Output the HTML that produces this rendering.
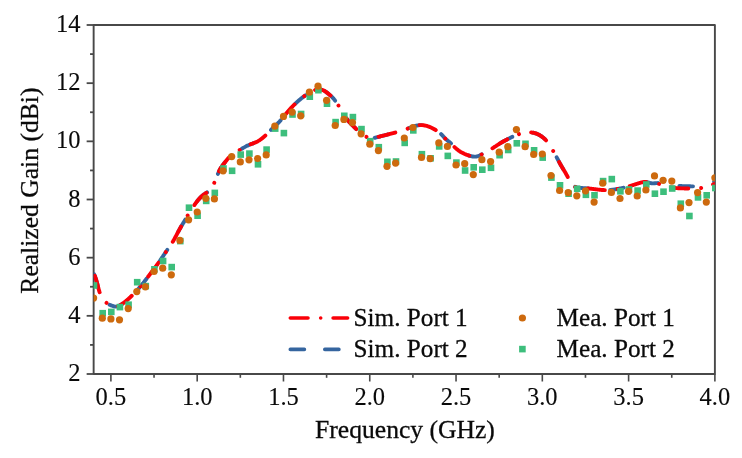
<!DOCTYPE html>
<html><head><meta charset="utf-8"><title>Realized Gain</title>
<style>
html,body{margin:0;padding:0;background:#fff;}
svg{display:block;}
text{font-family:"Liberation Serif","Times New Roman",serif;font-size:25.2px;fill:#0a0a0a;stroke:#0a0a0a;stroke-width:0.3px;}
.tk{font-size:24.5px;stroke-width:0.12px;}
.ti{font-size:25.6px;}
</style></head><body>
<svg width="742" height="458" viewBox="0 0 742 458">
<rect width="742" height="458" fill="#fff"/>
<defs><clipPath id="pc"><rect x="93.64" y="25.00" width="621.25" height="349.00"/></clipPath></defs>

<g stroke="#484848" stroke-width="1.6" fill="none" stroke-linejoin="round">
<rect x="93.64" y="25.00" width="621.25" height="349.00" stroke-width="1.9"/>
<line x1="110.90" y1="374.00" x2="110.90" y2="381.50"/>
<line x1="197.19" y1="374.00" x2="197.19" y2="381.50"/>
<line x1="283.47" y1="374.00" x2="283.47" y2="381.50"/>
<line x1="369.75" y1="374.00" x2="369.75" y2="381.50"/>
<line x1="456.04" y1="374.00" x2="456.04" y2="381.50"/>
<line x1="542.32" y1="374.00" x2="542.32" y2="381.50"/>
<line x1="628.61" y1="374.00" x2="628.61" y2="381.50"/>
<line x1="714.89" y1="374.00" x2="714.89" y2="381.50"/>
<line x1="154.04" y1="374.00" x2="154.04" y2="377.80"/>
<line x1="240.33" y1="374.00" x2="240.33" y2="377.80"/>
<line x1="326.61" y1="374.00" x2="326.61" y2="377.80"/>
<line x1="412.90" y1="374.00" x2="412.90" y2="377.80"/>
<line x1="499.18" y1="374.00" x2="499.18" y2="377.80"/>
<line x1="585.47" y1="374.00" x2="585.47" y2="377.80"/>
<line x1="671.75" y1="374.00" x2="671.75" y2="377.80"/>
<line x1="93.64" y1="374.00" x2="86.64" y2="374.00" stroke-width="1.8"/>
<line x1="93.64" y1="315.83" x2="86.64" y2="315.83" stroke-width="1.8"/>
<line x1="93.64" y1="257.67" x2="86.64" y2="257.67" stroke-width="1.8"/>
<line x1="93.64" y1="199.50" x2="86.64" y2="199.50" stroke-width="1.8"/>
<line x1="93.64" y1="141.34" x2="86.64" y2="141.34" stroke-width="1.8"/>
<line x1="93.64" y1="83.17" x2="86.64" y2="83.17" stroke-width="1.8"/>
<line x1="93.64" y1="25.00" x2="86.64" y2="25.00" stroke-width="1.8"/>
<line x1="93.64" y1="344.92" x2="90.04" y2="344.92" stroke-width="1.8"/>
<line x1="93.64" y1="286.75" x2="90.04" y2="286.75" stroke-width="1.8"/>
<line x1="93.64" y1="228.59" x2="90.04" y2="228.59" stroke-width="1.8"/>
<line x1="93.64" y1="170.42" x2="90.04" y2="170.42" stroke-width="1.8"/>
<line x1="93.64" y1="112.25" x2="90.04" y2="112.25" stroke-width="1.8"/>
<line x1="93.64" y1="54.09" x2="90.04" y2="54.09" stroke-width="1.8"/>
</g>
<text x="110.9" y="404.5" class="tk" text-anchor="middle">0.5</text>
<text x="197.2" y="404.5" class="tk" text-anchor="middle">1.0</text>
<text x="283.5" y="404.5" class="tk" text-anchor="middle">1.5</text>
<text x="369.8" y="404.5" class="tk" text-anchor="middle">2.0</text>
<text x="456.0" y="404.5" class="tk" text-anchor="middle">2.5</text>
<text x="542.3" y="404.5" class="tk" text-anchor="middle">3.0</text>
<text x="628.6" y="404.5" class="tk" text-anchor="middle">3.5</text>
<text x="714.9" y="404.5" class="tk" text-anchor="middle">4.0</text>
<text x="80.4" y="381.0" class="tk" text-anchor="end">2</text>
<text x="80.4" y="322.8" class="tk" text-anchor="end">4</text>
<text x="80.4" y="264.7" class="tk" text-anchor="end">6</text>
<text x="80.4" y="206.5" class="tk" text-anchor="end">8</text>
<text x="80.4" y="148.3" class="tk" text-anchor="end">10</text>
<text x="80.4" y="90.2" class="tk" text-anchor="end">12</text>
<text x="80.4" y="32.0" class="tk" text-anchor="end">14</text>
<text x="405" y="437.8" class="ti" text-anchor="middle">Frequency (GHz)</text>
<text transform="translate(37.5,190.6) rotate(-90)" class="ti" text-anchor="middle">Realized Gain (dBi)</text>
<g clip-path="url(#pc)" fill="none" stroke-linecap="round" stroke-linejoin="round">
<path d="M94.10,274.30 L94.33,274.80 L94.55,275.31 L94.77,275.82 L94.97,276.32 L95.17,276.83 L95.35,277.34 L95.53,277.85 L95.71,278.36 L95.88,278.88 L96.04,279.39 L96.20,279.90 L96.35,280.42 L96.50,280.93 L96.64,281.45 L96.78,281.97 L96.92,282.48 L97.06,283.00 L97.19,283.52 L97.33,284.04 L97.46,284.56 L97.59,285.08 L97.72,285.60 L97.86,286.12 L97.99,286.64 L98.13,287.16 L98.27,287.69 L98.41,288.21 L98.55,288.73 L98.70,289.25 L98.85,289.77 L99.01,290.30 L99.17,290.82 L99.34,291.34 L99.51,291.86 L99.70,292.39 L99.88,292.91 L100.08,293.43 L100.28,293.95 L100.49,294.47 L100.71,294.98 L100.94,295.49 L101.18,296.00 L101.42,296.50 L101.68,296.99 L101.94,297.48 L102.22,297.96 L102.50,298.43 L102.80,298.89 L103.10,299.34 L103.42,299.78 L103.75,300.21 L104.09,300.63 L104.45,301.03 L104.81,301.42 L105.19,301.80 L105.58,302.16 L105.99,302.51 L106.40,302.84 L106.83,303.15 L107.28,303.44 L107.73,303.73 L108.20,304.00 L108.67,304.25 L109.15,304.50 L109.65,304.73 L110.15,304.95 L110.65,305.17 L111.17,305.38 L111.69,305.57 L112.21,305.77 L112.74,305.95 L113.27,306.13 L113.80,306.29 L114.33,306.42 L114.87,306.53 L115.40,306.59 L115.93,306.61 L116.45,306.59 L116.97,306.50 L117.49,306.38 L118.00,306.21 L118.51,306.00 L119.01,305.77 L119.51,305.51 L119.99,305.24 L120.48,304.95 L120.95,304.67 L121.41,304.37 L121.87,304.08 L122.33,303.77 L122.77,303.47 L123.21,303.15 L123.65,302.84 L124.08,302.52 L124.51,302.19 L124.93,301.86 L125.35,301.53 L125.77,301.19 L126.18,300.85 L126.59,300.50 L127.00,300.15 L127.41,299.80 L127.82,299.44 L128.22,299.08 L128.62,298.72 L129.02,298.35 L129.42,297.98 L129.81,297.61 L130.21,297.24 L130.60,296.86 L130.99,296.49 L131.38,296.11 L131.77,295.73 L132.16,295.35 L132.54,294.97 L132.93,294.59 L133.31,294.20 L133.69,293.82 L134.07,293.43 L134.45,293.04 L134.83,292.65 L135.20,292.26 L135.58,291.87 L135.95,291.48 L136.32,291.08 L136.69,290.69 L137.05,290.29 L137.42,289.89 L137.78,289.49 L138.14,289.09 L138.50,288.69 L138.86,288.28 L139.22,287.87 L139.57,287.47 L139.92,287.06 L140.27,286.64 L140.62,286.23 L140.97,285.81 L141.31,285.40 L141.65,284.98 L142.00,284.56 L142.34,284.14 L142.67,283.72 L143.01,283.29 L143.35,282.87 L143.68,282.44 L144.02,282.02 L144.35,281.59 L144.68,281.16 L145.01,280.73 L145.34,280.31 L145.67,279.88 L146.00,279.45 L146.33,279.02 L146.66,278.58 L146.99,278.15 L147.31,277.72 L147.64,277.29 L147.97,276.86 L148.30,276.43 L148.63,276.00 L148.95,275.57 L149.28,275.14 L149.61,274.71 L149.94,274.28 L150.27,273.85 L150.60,273.42 L150.93,272.99 L151.26,272.56 L151.58,272.13 L151.91,271.70 L152.24,271.27 L152.57,270.83 L152.90,270.40 L153.22,269.97 L153.55,269.54 L153.88,269.11 L154.20,268.68 L154.53,268.24 L154.85,267.81 L155.17,267.38 L155.50,266.94 L155.82,266.51 L156.14,266.07 L156.46,265.64 L156.78,265.20 L157.10,264.76 L157.41,264.32 L157.73,263.88 L158.04,263.44 L158.35,263.00 L158.66,262.56 L158.97,262.12 L159.28,261.67 L159.59,261.23 L159.90,260.78 L160.21,260.34 L160.51,259.89 L160.82,259.44 L161.12,259.00 L161.42,258.55 L161.73,258.10 L162.03,257.65 L162.33,257.20 L162.64,256.76 L162.94,256.31 L163.24,255.86 L163.54,255.41 L163.84,254.96 L164.15,254.51 L164.45,254.06 L164.75,253.61 L165.05,253.16 L165.36,252.72 L165.66,252.27 L165.97,251.82 L166.27,251.37 L166.58,250.93 L166.88,250.48 L167.19,250.03 L167.50,249.59 L167.81,249.14 L168.12,248.70 L168.43,248.26 L168.74,247.81 L169.05,247.37 L169.36,246.93 L169.67,246.48 L169.98,246.04 L170.29,245.59 L170.60,245.15 L170.90,244.70 L171.20,244.25 L171.50,243.80 L171.80,243.35 L172.09,242.89 L172.38,242.43 L172.66,241.98 L172.94,241.51 L173.22,241.05 L173.49,240.58 L173.76,240.12 L174.03,239.65 L174.30,239.17 L174.56,238.70 L174.82,238.23 L175.08,237.75 L175.33,237.27 L175.59,236.80 L175.84,236.32 L176.09,235.84 L176.35,235.36 L176.60,234.88 L176.85,234.40 L177.10,233.92 L177.35,233.44 L177.60,232.96 L177.85,232.48 L178.10,232.00 L178.36,231.52 L178.61,231.04 L178.87,230.57 L179.13,230.09 L179.39,229.62 L179.65,229.14 L179.92,228.67 L180.18,228.20 L180.45,227.73 L180.73,227.26 L181.00,226.80 L181.28,226.33 L181.56,225.87 L181.83,225.40 L182.11,224.94 L182.39,224.48 L182.67,224.01 L182.96,223.55 L183.24,223.09 L183.52,222.63 L183.80,222.16 L184.08,221.70 L184.35,221.24 L184.63,220.77 L184.91,220.30 L185.18,219.84 L185.45,219.37 L185.72,218.90 L185.99,218.43 L186.25,217.96 L186.52,217.49 L186.79,217.02 L187.05,216.55 L187.32,216.08 L187.59,215.61 L187.86,215.14 L188.13,214.67 L188.41,214.20 L188.69,213.74 L188.97,213.28 L189.25,212.81 L189.53,212.35 L189.82,211.89 L190.11,211.44 L190.40,210.98 L190.69,210.52 L190.98,210.07 L191.28,209.61 L191.57,209.16 L191.87,208.71 L192.17,208.26 L192.47,207.81 L192.77,207.36 L193.08,206.91 L193.38,206.46 L193.69,206.02 L194.00,205.57 L194.30,205.13 L194.61,204.68 L194.93,204.24 L195.24,203.80 L195.56,203.36 L195.88,202.92 L196.20,202.49 L196.52,202.06 L196.85,201.63 L197.19,201.20 L197.52,200.78 L197.87,200.36 L198.21,199.94 L198.56,199.53 L198.92,199.12 L199.28,198.71 L199.65,198.31 L200.02,197.92 L200.40,197.53 L200.79,197.15 L201.18,196.77 L201.58,196.40 L201.98,196.05 L202.39,195.69 L202.81,195.35 L203.24,195.02 L203.68,194.70 L204.12,194.38 L204.56,194.08 L205.01,193.77 L205.46,193.47 L205.91,193.16 L206.35,192.85 L206.79,192.54 L207.22,192.22 L207.65,191.88 L208.06,191.53 L208.46,191.17 L208.85,190.80 L209.24,190.41 L209.61,190.02 L209.97,189.62 L210.32,189.20 L210.67,188.78 L211.00,188.35 L211.33,187.91 L211.64,187.46 L211.95,187.00 L212.25,186.54 L212.54,186.08 L212.82,185.61 L213.09,185.13 L213.36,184.65 L213.61,184.17 L213.86,183.68 L214.10,183.19 L214.33,182.70 L214.56,182.20 L214.78,181.71 L215.00,181.21 L215.21,180.71 L215.41,180.21 L215.62,179.71 L215.82,179.21 L216.01,178.71 L216.21,178.20 L216.41,177.70 L216.60,177.20 L216.79,176.69 L216.99,176.19 L217.19,175.68 L217.39,175.18 L217.59,174.68 L217.79,174.18 L218.00,173.68 L218.21,173.18 L218.43,172.68 L218.65,172.18 L218.88,171.69 L219.11,171.20 L219.35,170.71 L219.59,170.23 L219.84,169.75 L220.10,169.27 L220.36,168.80 L220.64,168.34 L220.92,167.87 L221.20,167.42 L221.50,166.97 L221.80,166.52 L222.11,166.08 L222.42,165.64 L222.74,165.20 L223.07,164.77 L223.39,164.34 L223.72,163.91 L224.06,163.48 L224.39,163.05 L224.73,162.63 L225.07,162.20 L225.40,161.77 L225.74,161.35 L226.08,160.92 L226.41,160.49 L226.75,160.06 L227.09,159.64 L227.43,159.22 L227.78,158.80 L228.13,158.38 L228.48,157.98 L228.85,157.58 L229.22,157.19 L229.59,156.80 L229.98,156.43 L230.37,156.07 L230.78,155.72 L231.19,155.37 L231.61,155.04 L232.04,154.71 L232.47,154.39 L232.91,154.08 L233.36,153.77 L233.81,153.48 L234.27,153.18 L234.73,152.89 L235.19,152.61 L235.66,152.32 L236.13,152.05 L236.60,151.77 L237.07,151.50 L237.55,151.22 L238.02,150.95 L238.50,150.68 L238.97,150.41 L239.44,150.13 L239.92,149.86 L240.39,149.58 L240.86,149.31 L241.32,149.03 L241.79,148.75 L242.26,148.48 L242.73,148.20 L243.20,147.93 L243.66,147.66 L244.13,147.39 L244.61,147.13 L245.08,146.86 L245.55,146.61 L246.03,146.35 L246.51,146.11 L246.99,145.86 L247.47,145.63 L247.96,145.40 L248.45,145.18 L248.95,144.96 L249.45,144.75 L249.95,144.55 L250.45,144.35 L250.96,144.15 L251.46,143.95 L251.97,143.76 L252.48,143.57 L252.98,143.37 L253.49,143.18 L253.99,142.98 L254.50,142.78 L255.00,142.57 L255.49,142.36 L255.99,142.14 L256.48,141.91 L256.96,141.67 L257.44,141.43 L257.92,141.17 L258.39,140.90 L258.85,140.63 L259.31,140.34 L259.76,140.05 L260.21,139.74 L260.66,139.43 L261.10,139.12 L261.53,138.79 L261.96,138.46 L262.39,138.12 L262.81,137.78 L263.23,137.43 L263.65,137.07 L264.06,136.71 L264.46,136.35 L264.86,135.98 L265.26,135.61 L265.66,135.24 L266.05,134.86 L266.44,134.48 L266.82,134.10 L267.21,133.72 L267.59,133.33 L267.97,132.95 L268.35,132.56 L268.73,132.18 L269.11,131.79 L269.49,131.41 L269.87,131.03 L270.25,130.65 L270.64,130.27 L271.02,129.89 L271.41,129.51 L271.80,129.14 L272.19,128.76 L272.59,128.39 L272.98,128.02 L273.37,127.65 L273.77,127.27 L274.16,126.90 L274.55,126.53 L274.95,126.16 L275.34,125.78 L275.73,125.41 L276.12,125.03 L276.51,124.65 L276.89,124.27 L277.28,123.89 L277.66,123.51 L278.04,123.12 L278.42,122.74 L278.79,122.35 L279.16,121.95 L279.53,121.56 L279.89,121.15 L280.25,120.75 L280.61,120.35 L280.96,119.94 L281.31,119.53 L281.66,119.11 L282.01,118.70 L282.35,118.28 L282.70,117.87 L283.04,117.45 L283.38,117.03 L283.72,116.61 L284.06,116.19 L284.40,115.76 L284.74,115.34 L285.09,114.92 L285.43,114.50 L285.77,114.08 L286.11,113.66 L286.45,113.24 L286.80,112.82 L287.14,112.41 L287.49,111.99 L287.84,111.58 L288.19,111.17 L288.55,110.76 L288.91,110.35 L289.26,109.94 L289.62,109.54 L289.99,109.14 L290.35,108.74 L290.72,108.34 L291.09,107.94 L291.46,107.55 L291.83,107.16 L292.21,106.77 L292.58,106.38 L292.96,105.99 L293.34,105.61 L293.73,105.22 L294.11,104.84 L294.50,104.46 L294.89,104.09 L295.28,103.71 L295.67,103.34 L296.07,102.97 L296.46,102.60 L296.86,102.23 L297.26,101.87 L297.67,101.51 L298.07,101.15 L298.48,100.79 L298.89,100.43 L299.30,100.08 L299.71,99.73 L300.13,99.38 L300.54,99.04 L300.96,98.69 L301.38,98.35 L301.80,98.02 L302.23,97.68 L302.65,97.35 L303.08,97.02 L303.51,96.69 L303.95,96.37 L304.38,96.04 L304.82,95.73 L305.25,95.41 L305.69,95.10 L306.14,94.79 L306.58,94.49 L307.03,94.19 L307.49,93.89 L307.94,93.60 L308.40,93.31 L308.86,93.03 L309.33,92.75 L309.80,92.48 L310.27,92.21 L310.75,91.95 L311.23,91.69 L311.72,91.44 L312.21,91.19 L312.71,90.96 L313.21,90.73 L313.71,90.51 L314.22,90.31 L314.73,90.12 L315.25,89.95 L315.77,89.80 L316.29,89.67 L316.82,89.56 L317.36,89.48 L317.90,89.42 L318.44,89.38 L318.98,89.38 L319.53,89.40 L320.07,89.45 L320.61,89.53 L321.15,89.63 L321.68,89.76 L322.21,89.91 L322.72,90.09 L323.22,90.29 L323.71,90.52 L324.19,90.77 L324.66,91.04 L325.12,91.32 L325.58,91.62 L326.02,91.93 L326.46,92.26 L326.89,92.59 L327.32,92.92 L327.75,93.26 L328.18,93.60 L328.60,93.95 L329.02,94.29 L329.44,94.64 L329.85,94.99 L330.26,95.35 L330.66,95.71 L331.06,96.07 L331.45,96.44 L331.84,96.82 L332.22,97.20 L332.60,97.59 L332.96,97.99 L333.32,98.39 L333.67,98.80 L334.02,99.22 L334.36,99.64 L334.69,100.06 L335.02,100.50 L335.35,100.93 L335.67,101.37 L335.98,101.81 L336.29,102.25 L336.60,102.69 L336.91,103.14 L337.21,103.59 L337.50,104.05 L337.80,104.50 L338.09,104.96 L338.37,105.42 L338.66,105.88 L338.94,106.34 L339.22,106.81 L339.50,107.27 L339.78,107.74 L340.05,108.21 L340.33,108.68 L340.60,109.15 L340.87,109.62 L341.15,110.09 L341.42,110.56 L341.69,111.03 L341.97,111.50 L342.24,111.97 L342.52,112.44 L342.79,112.90 L343.07,113.37 L343.35,113.83 L343.63,114.29 L343.92,114.75 L344.21,115.21 L344.50,115.67 L344.79,116.12 L345.09,116.57 L345.39,117.02 L345.70,117.46 L346.01,117.90 L346.32,118.34 L346.64,118.77 L346.97,119.20 L347.30,119.62 L347.63,120.04 L347.97,120.46 L348.32,120.87 L348.67,121.27 L349.02,121.68 L349.38,122.08 L349.74,122.48 L350.11,122.87 L350.48,123.27 L350.85,123.66 L351.23,124.05 L351.61,124.43 L351.99,124.82 L352.37,125.20 L352.75,125.59 L353.14,125.97 L353.53,126.35 L353.91,126.74 L354.30,127.12 L354.69,127.50 L355.08,127.89 L355.47,128.27 L355.86,128.66 L356.25,129.05 L356.64,129.43 L357.03,129.82 L357.42,130.21 L357.81,130.59 L358.20,130.97 L358.59,131.35 L358.99,131.73 L359.39,132.10 L359.80,132.47 L360.20,132.83 L360.62,133.18 L361.03,133.53 L361.45,133.87 L361.88,134.20 L362.31,134.53 L362.75,134.84 L363.20,135.14 L363.65,135.44 L364.11,135.72 L364.58,135.98 L365.06,136.24 L365.55,136.48 L366.04,136.71 L366.55,136.92 L367.06,137.12 L367.58,137.30 L368.11,137.46 L368.64,137.61 L369.17,137.73 L369.71,137.84 L370.25,137.93 L370.80,138.00 L371.34,138.04 L371.89,138.07 L372.43,138.07 L372.97,138.04 L373.51,138.00 L374.05,137.93 L374.58,137.84 L375.11,137.73 L375.64,137.61 L376.17,137.47 L376.69,137.34 L377.22,137.20 L377.74,137.06 L378.26,136.92 L378.79,136.78 L379.31,136.64 L379.84,136.51 L380.36,136.37 L380.89,136.23 L381.41,136.10 L381.94,135.97 L382.46,135.83 L382.99,135.70 L383.51,135.57 L384.04,135.44 L384.56,135.30 L385.09,135.17 L385.61,135.04 L386.14,134.91 L386.66,134.78 L387.18,134.65 L387.71,134.51 L388.23,134.38 L388.76,134.25 L389.28,134.12 L389.80,133.98 L390.33,133.85 L390.85,133.71 L391.37,133.58 L391.90,133.44 L392.42,133.31 L392.94,133.17 L393.47,133.03 L393.99,132.89 L394.51,132.75 L395.03,132.61 L395.56,132.47 L396.08,132.32 L396.60,132.18 L397.12,132.03 L397.64,131.88 L398.16,131.73 L398.68,131.58 L399.20,131.43 L399.72,131.27 L400.24,131.12 L400.76,130.96 L401.27,130.80 L401.79,130.63 L402.31,130.47 L402.82,130.30 L403.34,130.13 L403.85,129.96 L404.36,129.79 L404.87,129.61 L405.38,129.43 L405.89,129.25 L406.40,129.06 L406.90,128.88 L407.41,128.69 L407.92,128.50 L408.42,128.30 L408.92,128.11 L409.43,127.92 L409.94,127.73 L410.44,127.54 L410.95,127.35 L411.46,127.17 L411.97,126.98 L412.49,126.81 L413.00,126.63 L413.52,126.46 L414.04,126.30 L414.56,126.15 L415.09,126.00 L415.62,125.86 L416.15,125.73 L416.68,125.61 L417.21,125.50 L417.75,125.40 L418.28,125.31 L418.82,125.24 L419.35,125.18 L419.89,125.14 L420.43,125.11 L420.97,125.10 L421.51,125.11 L422.05,125.13 L422.59,125.17 L423.13,125.22 L423.67,125.29 L424.20,125.38 L424.74,125.48 L425.27,125.59 L425.81,125.71 L426.34,125.84 L426.86,125.99 L427.39,126.15 L427.91,126.31 L428.42,126.49 L428.94,126.68 L429.45,126.87 L429.95,127.07 L430.45,127.28 L430.95,127.50 L431.44,127.72 L431.93,127.95 L432.42,128.19 L432.90,128.43 L433.38,128.69 L433.85,128.94 L434.33,129.21 L434.80,129.48 L435.26,129.76 L435.73,130.04 L436.19,130.33 L436.64,130.62 L437.09,130.92 L437.54,131.23 L437.99,131.54 L438.42,131.86 L438.86,132.19 L439.28,132.52 L439.70,132.87 L440.12,133.22 L440.52,133.57 L440.92,133.94 L441.31,134.32 L441.70,134.70 L442.07,135.09 L442.44,135.49 L442.80,135.89 L443.16,136.29 L443.52,136.70 L443.88,137.10 L444.25,137.50 L444.61,137.90 L444.99,138.29 L445.37,138.68 L445.76,139.05 L446.15,139.42 L446.56,139.77 L446.98,140.12 L447.40,140.46 L447.82,140.80 L448.25,141.13 L448.67,141.47 L449.10,141.80 L449.52,142.14 L449.94,142.48 L450.36,142.83 L450.76,143.19 L451.16,143.55 L451.55,143.93 L451.94,144.31 L452.31,144.69 L452.69,145.09 L453.06,145.48 L453.43,145.88 L453.80,146.27 L454.17,146.66 L454.55,147.05 L454.94,147.43 L455.33,147.81 L455.73,148.18 L456.13,148.54 L456.54,148.90 L456.96,149.25 L457.38,149.59 L457.80,149.93 L458.24,150.26 L458.67,150.58 L459.12,150.89 L459.56,151.20 L460.01,151.49 L460.47,151.78 L460.93,152.06 L461.39,152.33 L461.86,152.60 L462.34,152.85 L462.81,153.10 L463.30,153.34 L463.78,153.57 L464.27,153.80 L464.77,154.02 L465.26,154.23 L465.77,154.43 L466.27,154.63 L466.78,154.82 L467.30,155.01 L467.82,155.19 L468.34,155.36 L468.87,155.53 L469.40,155.69 L469.93,155.85 L470.47,155.99 L471.01,156.13 L471.55,156.25 L472.09,156.36 L472.63,156.46 L473.18,156.53 L473.72,156.59 L474.26,156.62 L474.79,156.63 L475.33,156.62 L475.86,156.58 L476.38,156.50 L476.90,156.40 L477.42,156.27 L477.93,156.11 L478.44,155.93 L478.95,155.73 L479.45,155.52 L479.95,155.29 L480.44,155.05 L480.93,154.80 L481.42,154.54 L481.91,154.29 L482.40,154.03 L482.88,153.78 L483.37,153.52 L483.85,153.26 L484.33,153.01 L484.80,152.75 L485.28,152.49 L485.75,152.23 L486.23,151.96 L486.70,151.70 L487.17,151.44 L487.64,151.17 L488.11,150.90 L488.57,150.64 L489.04,150.36 L489.50,150.09 L489.96,149.82 L490.42,149.54 L490.88,149.26 L491.34,148.98 L491.80,148.70 L492.26,148.41 L492.71,148.13 L493.17,147.84 L493.62,147.55 L494.08,147.25 L494.53,146.96 L494.98,146.66 L495.44,146.37 L495.89,146.07 L496.34,145.78 L496.80,145.48 L497.25,145.18 L497.71,144.89 L498.16,144.59 L498.62,144.30 L499.07,144.01 L499.53,143.72 L499.99,143.43 L500.45,143.14 L500.91,142.86 L501.37,142.58 L501.84,142.30 L502.31,142.02 L502.77,141.75 L503.24,141.48 L503.71,141.21 L504.19,140.94 L504.66,140.68 L505.14,140.42 L505.61,140.16 L506.09,139.91 L506.57,139.66 L507.05,139.41 L507.53,139.16 L508.02,138.92 L508.50,138.68 L508.99,138.44 L509.48,138.21 L509.96,137.97 L510.45,137.74 L510.94,137.52 L511.44,137.29 L511.93,137.07 L512.42,136.85 L512.92,136.64 L513.41,136.42 L513.91,136.21 L514.41,136.00 L514.90,135.79 L515.40,135.58 L515.90,135.38 L516.40,135.17 L516.91,134.96 L517.41,134.76 L517.91,134.56 L518.42,134.35 L518.92,134.15 L519.43,133.95 L519.93,133.75 L520.44,133.55 L520.95,133.37 L521.46,133.19 L521.98,133.02 L522.50,132.86 L523.02,132.72 L523.54,132.59 L524.07,132.49 L524.60,132.40 L525.14,132.33 L525.67,132.28 L526.21,132.25 L526.76,132.23 L527.30,132.22 L527.84,132.23 L528.39,132.24 L528.93,132.27 L529.48,132.30 L530.02,132.33 L530.56,132.38 L531.11,132.43 L531.64,132.49 L532.18,132.56 L532.71,132.64 L533.25,132.74 L533.77,132.85 L534.30,132.97 L534.82,133.12 L535.34,133.27 L535.85,133.45 L536.36,133.63 L536.86,133.83 L537.36,134.05 L537.86,134.27 L538.35,134.51 L538.83,134.76 L539.31,135.02 L539.79,135.29 L540.26,135.57 L540.72,135.86 L541.17,136.16 L541.62,136.47 L542.07,136.78 L542.50,137.11 L542.93,137.44 L543.36,137.78 L543.77,138.13 L544.18,138.49 L544.58,138.85 L544.98,139.23 L545.36,139.61 L545.74,139.99 L546.11,140.39 L546.47,140.79 L546.82,141.20 L547.17,141.62 L547.50,142.04 L547.83,142.46 L548.16,142.90 L548.47,143.34 L548.78,143.78 L549.09,144.23 L549.39,144.68 L549.69,145.13 L549.98,145.59 L550.26,146.05 L550.55,146.51 L550.83,146.98 L551.10,147.45 L551.38,147.92 L551.65,148.39 L551.92,148.86 L552.19,149.33 L552.46,149.81 L552.73,150.28 L553.00,150.75 L553.27,151.22 L553.54,151.69 L553.80,152.16 L554.07,152.63 L554.34,153.10 L554.60,153.57 L554.87,154.04 L555.13,154.52 L555.40,154.99 L555.66,155.46 L555.92,155.93 L556.18,156.41 L556.44,156.89 L556.69,157.36 L556.95,157.84 L557.20,158.32 L557.46,158.80 L557.71,159.28 L557.96,159.76 L558.21,160.24 L558.46,160.73 L558.72,161.21 L558.97,161.68 L559.22,162.16 L559.48,162.64 L559.73,163.11 L559.99,163.59 L560.25,164.06 L560.51,164.52 L560.78,164.99 L561.05,165.45 L561.32,165.91 L561.59,166.37 L561.86,166.83 L562.13,167.29 L562.41,167.74 L562.68,168.20 L562.96,168.66 L563.24,169.11 L563.51,169.57 L563.79,170.02 L564.07,170.48 L564.35,170.94 L564.62,171.40 L564.90,171.87 L565.17,172.33 L565.44,172.80 L565.71,173.27 L565.98,173.75 L566.25,174.22 L566.51,174.71 L566.78,175.19 L567.04,175.69 L567.29,176.18 L567.55,176.68 L567.80,177.19 L568.04,177.70 L568.29,178.22 L568.53,178.74 L568.77,179.26 L569.02,179.78 L569.26,180.30 L569.52,180.81 L569.77,181.31 L570.04,181.81 L570.31,182.29 L570.59,182.76 L570.88,183.22 L571.19,183.67 L571.50,184.09 L571.84,184.50 L572.18,184.88 L572.55,185.24 L572.93,185.58 L573.34,185.89 L573.76,186.17 L574.21,186.42 L574.67,186.65 L575.15,186.85 L575.65,187.03 L576.16,187.18 L576.69,187.32 L577.22,187.44 L577.77,187.55 L578.32,187.64 L578.88,187.72 L579.44,187.78 L580.01,187.84 L580.57,187.89 L581.14,187.94 L581.70,187.99 L582.27,188.03 L582.82,188.07 L583.38,188.11 L583.93,188.15 L584.47,188.19 L585.02,188.23 L585.56,188.27 L586.10,188.31 L586.64,188.35 L587.17,188.39 L587.70,188.44 L588.24,188.48 L588.77,188.53 L589.30,188.57 L589.83,188.62 L590.36,188.67 L590.89,188.73 L591.42,188.78 L591.96,188.84 L592.49,188.90 L593.02,188.96 L593.56,189.03 L594.09,189.09 L594.63,189.16 L595.16,189.22 L595.70,189.29 L596.24,189.36 L596.77,189.43 L597.31,189.49 L597.85,189.56 L598.39,189.62 L598.93,189.68 L599.47,189.74 L600.01,189.79 L600.55,189.84 L601.09,189.89 L601.63,189.94 L602.18,189.98 L602.72,190.02 L603.26,190.05 L603.80,190.07 L604.34,190.09 L604.88,190.11 L605.43,190.11 L605.97,190.12 L606.51,190.11 L607.05,190.10 L607.59,190.09 L608.13,190.07 L608.68,190.04 L609.22,190.01 L609.76,189.97 L610.30,189.93 L610.84,189.89 L611.38,189.84 L611.91,189.78 L612.45,189.73 L612.99,189.66 L613.53,189.60 L614.07,189.53 L614.60,189.45 L615.14,189.38 L615.67,189.29 L616.21,189.21 L616.74,189.12 L617.27,189.03 L617.81,188.94 L618.34,188.84 L618.87,188.74 L619.40,188.64 L619.93,188.53 L620.46,188.42 L620.99,188.31 L621.52,188.20 L622.05,188.08 L622.58,187.96 L623.11,187.84 L623.64,187.71 L624.16,187.58 L624.69,187.45 L625.22,187.32 L625.74,187.19 L626.27,187.05 L626.79,186.91 L627.31,186.77 L627.83,186.62 L628.35,186.48 L628.87,186.33 L629.39,186.18 L629.91,186.03 L630.42,185.87 L630.94,185.72 L631.45,185.56 L631.97,185.40 L632.48,185.24 L632.99,185.07 L633.50,184.91 L634.02,184.75 L634.53,184.58 L635.04,184.41 L635.56,184.25 L636.07,184.08 L636.59,183.91 L637.11,183.74 L637.63,183.58 L638.15,183.41 L638.68,183.24 L639.21,183.08 L639.73,182.92 L640.27,182.76 L640.80,182.61 L641.33,182.47 L641.86,182.35 L642.40,182.24 L642.93,182.14 L643.47,182.07 L644.00,182.02 L644.53,181.99 L645.07,181.98 L645.60,182.01 L646.13,182.06 L646.66,182.14 L647.18,182.23 L647.71,182.35 L648.24,182.48 L648.77,182.61 L649.29,182.75 L649.82,182.89 L650.35,183.02 L650.88,183.15 L651.42,183.26 L651.95,183.36 L652.49,183.38 L653.03,183.38 L653.57,183.35 L654.11,183.32 L654.65,183.27 L655.19,183.23 L655.73,183.18 L656.28,183.14 L656.81,183.10 L657.35,183.08 L657.89,183.07 L658.42,183.08 L658.95,183.11 L659.48,183.14 L660.00,183.20 L660.53,183.26 L661.05,183.33 L661.58,183.41 L662.10,183.50 L662.62,183.60 L663.14,183.70 L663.65,183.81 L664.17,183.92 L664.69,184.03 L665.21,184.15 L665.72,184.29 L666.24,184.43 L666.76,184.56 L667.28,184.69 L667.80,184.82 L668.32,184.94 L668.84,185.05 L669.37,185.16 L669.89,185.26 L670.42,185.34 L670.94,185.42 L671.47,185.50 L672.00,185.56 L672.53,185.62 L673.07,185.67 L673.60,185.71 L674.13,185.75 L674.67,185.78 L675.21,185.80 L675.74,185.82 L676.28,185.84 L676.82,185.85 L677.36,185.86 L677.90,185.89 L678.44,185.93 L678.98,185.95 L679.53,185.98 L680.07,186.00 L680.61,186.03 L681.16,186.05 L681.70,186.06 L682.25,186.08 L682.79,186.09 L683.34,186.11 L683.88,186.12 L684.43,186.13 L684.97,186.15 L685.52,186.16 L686.07,186.17 L686.61,186.19 L687.16,186.21 L687.71,186.22 L688.25,186.24 L688.80,186.26 L689.34,186.28 L689.89,186.30 L690.44,186.32 L690.98,186.33 L691.53,186.35 L692.07,186.36 L692.61,186.37 L693.16,186.37 L693.70,186.37 L694.24,186.36 L694.78,186.35 L695.32,186.33 L695.86,186.31 L696.40,186.27 L696.93,186.24 L697.47,186.19 L698.00,186.14 L698.54,186.08 L699.07,186.01 L699.60,185.93 L700.13,185.84 L700.66,185.74 L701.19,185.63 L701.71,185.52 L702.24,185.40 L702.76,185.27 L703.29,185.13 L703.81,184.99 L704.33,184.84 L704.85,184.69 L705.37,184.53 L705.89,184.37 L706.41,184.21 L706.93,184.05 L707.45,183.88 L707.97,183.71 L708.48,183.55 L709.00,183.38 L709.52,183.20 L710.04,183.03 L710.55,182.87 L711.07,182.70 L711.59,182.53 L712.11,182.37 L712.62,182.21 L713.14,182.05 L713.66,181.89 L714.18,181.74 L714.70,181.60" stroke="#35659f" stroke-width="3.9" stroke-dasharray="13.6 21.7"/>
<path d="M94.10,274.30 L94.33,274.80 L94.55,275.31 L94.77,275.82 L94.97,276.32 L95.17,276.83 L95.35,277.34 L95.53,277.85 L95.71,278.36 L95.88,278.88 L96.04,279.39 L96.20,279.90 L96.35,280.42 L96.50,280.93 L96.64,281.45 L96.78,281.97 L96.92,282.48 L97.06,283.00 L97.19,283.52 L97.33,284.04 L97.46,284.56 L97.59,285.08 L97.72,285.60 L97.86,286.12 L97.99,286.64 L98.13,287.16 L98.27,287.69 L98.41,288.21 L98.55,288.73 L98.70,289.25 L98.85,289.77 L99.01,290.30 L99.17,290.82 L99.34,291.34 L99.51,291.86 L99.70,292.39 L99.88,292.91 L100.08,293.43 L100.28,293.95 L100.49,294.47 L100.71,294.98 L100.94,295.49 L101.18,296.00 L101.42,296.50 L101.68,296.99 L101.94,297.48 L102.22,297.96 L102.50,298.43 L102.80,298.89 L103.10,299.34 L103.42,299.78 L103.75,300.21 L104.09,300.63 L104.45,301.03 L104.81,301.42 L105.19,301.80 L105.58,302.16 L105.99,302.51 L106.40,302.84 L106.83,303.15 L107.28,303.44 L107.73,303.73 L108.20,304.00 L108.67,304.25 L109.15,304.50 L109.65,304.73 L110.15,304.95 L110.65,305.17 L111.17,305.38 L111.69,305.57 L112.21,305.77 L112.74,305.95 L113.27,306.13 L113.80,306.29 L114.33,306.42 L114.87,306.53 L115.40,306.59 L115.93,306.61 L116.45,306.59 L116.97,306.50 L117.49,306.38 L118.00,306.21 L118.51,306.00 L119.01,305.77 L119.51,305.51 L119.99,305.24 L120.48,304.95 L120.95,304.67 L121.41,304.37 L121.87,304.08 L122.33,303.77 L122.77,303.47 L123.21,303.15 L123.65,302.84 L124.08,302.52 L124.51,302.19 L124.93,301.86 L125.35,301.53 L125.77,301.19 L126.18,300.85 L126.59,300.50 L127.00,300.15 L127.41,299.80 L127.82,299.44 L128.22,299.08 L128.62,298.72 L129.02,298.35 L129.42,297.98 L129.81,297.61 L130.21,297.24 L130.60,296.86 L130.99,296.49 L131.38,296.11 L131.77,295.73 L132.16,295.35 L132.54,294.97 L132.93,294.59 L133.31,294.20 L133.69,293.82 L134.07,293.43 L134.45,293.04 L134.83,292.65 L135.20,292.26 L135.58,291.87 L135.95,291.48 L136.32,291.08 L136.69,290.69 L137.05,290.29 L137.42,289.89 L137.78,289.49 L138.14,289.09 L138.50,288.69 L138.86,288.28 L139.22,287.87 L139.57,287.47 L139.92,287.06 L140.27,286.64 L140.62,286.23 L140.97,285.81 L141.31,285.40 L141.65,284.98 L142.00,284.56 L142.34,284.14 L142.67,283.72 L143.01,283.29 L143.35,282.87 L143.68,282.44 L144.02,282.02 L144.35,281.59 L144.68,281.16 L145.01,280.73 L145.34,280.31 L145.67,279.88 L146.00,279.45 L146.33,279.02 L146.66,278.58 L146.99,278.15 L147.31,277.72 L147.64,277.29 L147.97,276.86 L148.30,276.43 L148.63,276.00 L148.95,275.57 L149.28,275.14 L149.61,274.71 L149.94,274.28 L150.27,273.85 L150.60,273.42 L150.93,272.99 L151.26,272.56 L151.58,272.13 L151.91,271.70 L152.24,271.27 L152.57,270.83 L152.90,270.40 L153.22,269.97 L153.55,269.54 L153.88,269.11 L154.20,268.68 L154.53,268.24 L154.85,267.81 L155.17,267.38 L155.50,266.94 L155.82,266.51 L156.14,266.07 L156.46,265.64 L156.78,265.20 L157.10,264.76 L157.41,264.32 L157.73,263.88 L158.04,263.44 L158.35,263.00 L158.66,262.56 L158.97,262.12 L159.28,261.67 L159.59,261.23 L159.90,260.78 L160.21,260.34 L160.51,259.89 L160.82,259.44 L161.12,259.00 L161.42,258.55 L161.73,258.10 L162.03,257.65 L162.33,257.20 L162.64,256.76 L162.94,256.31 L163.24,255.86 L163.54,255.41 L163.84,254.96 L164.15,254.51 L164.45,254.06 L164.75,253.61 L165.05,253.16 L165.36,252.72 L165.66,252.27 L165.97,251.82 L166.27,251.37 L166.58,250.93 L166.88,250.48 L167.19,250.03 L167.50,249.59 L167.81,249.14 L168.12,248.70 L168.43,248.26 L168.74,247.81 L169.05,247.37 L169.36,246.93 L169.67,246.48 L169.98,246.04 L170.29,245.59 L170.60,245.15 L170.90,244.70 L171.20,244.25 L171.50,243.80 L171.80,243.35 L172.09,242.89 L172.38,242.43 L172.66,241.98 L172.94,241.51 L173.22,241.05 L173.49,240.58 L173.76,240.12 L174.03,239.65 L174.30,239.17 L174.56,238.70 L174.82,238.23 L175.08,237.75 L175.33,237.27 L175.59,236.80 L175.84,236.32 L176.09,235.84 L176.35,235.36 L176.60,234.88 L176.85,234.40 L177.10,233.92 L177.35,233.44 L177.60,232.96 L177.85,232.48 L178.10,232.00 L178.36,231.52 L178.61,231.04 L178.87,230.57 L179.13,230.09 L179.39,229.62 L179.65,229.14 L179.92,228.67 L180.18,228.20 L180.45,227.73 L180.73,227.26 L181.00,226.80 L181.28,226.33 L181.56,225.87 L181.83,225.40 L182.11,224.94 L182.39,224.48 L182.67,224.01 L182.96,223.55 L183.24,223.09 L183.52,222.63 L183.80,222.16 L184.08,221.70 L184.35,221.24 L184.63,220.77 L184.91,220.30 L185.18,219.84 L185.45,219.37 L185.72,218.90 L185.99,218.43 L186.25,217.96 L186.52,217.49 L186.79,217.02 L187.05,216.55 L187.32,216.08 L187.59,215.61 L187.86,215.14 L188.13,214.67 L188.41,214.20 L188.69,213.74 L188.97,213.28 L189.25,212.81 L189.53,212.35 L189.82,211.89 L190.11,211.44 L190.40,210.98 L190.69,210.52 L190.98,210.07 L191.28,209.61 L191.57,209.16 L191.87,208.71 L192.17,208.26 L192.47,207.81 L192.77,207.36 L193.08,206.91 L193.38,206.46 L193.69,206.02 L194.00,205.57 L194.30,205.13 L194.61,204.68 L194.93,204.24 L195.24,203.80 L195.56,203.36 L195.88,202.92 L196.20,202.49 L196.52,202.06 L196.85,201.63 L197.19,201.20 L197.52,200.78 L197.87,200.36 L198.21,199.94 L198.56,199.53 L198.92,199.12 L199.28,198.71 L199.65,198.31 L200.02,197.92 L200.40,197.53 L200.79,197.15 L201.18,196.77 L201.58,196.40 L201.98,196.05 L202.39,195.69 L202.81,195.35 L203.24,195.02 L203.68,194.70 L204.12,194.38 L204.56,194.08 L205.01,193.77 L205.46,193.47 L205.91,193.16 L206.35,192.85 L206.79,192.54 L207.22,192.22 L207.65,191.88 L208.06,191.53 L208.46,191.17 L208.85,190.80 L209.24,190.41 L209.61,190.02 L209.97,189.62 L210.32,189.20 L210.67,188.78 L211.00,188.35 L211.33,187.91 L211.64,187.46 L211.95,187.00 L212.25,186.54 L212.54,186.08 L212.82,185.61 L213.09,185.13 L213.36,184.65 L213.61,184.17 L213.86,183.68 L214.10,183.19 L214.33,182.70 L214.56,182.20 L214.78,181.71 L215.00,181.21 L215.21,180.71 L215.41,180.21 L215.62,179.71 L215.82,179.21 L216.01,178.71 L216.21,178.20 L216.41,177.70 L216.60,177.20 L216.79,176.69 L216.99,176.19 L217.19,175.68 L217.39,175.18 L217.59,174.68 L217.79,174.18 L218.00,173.68 L218.21,173.18 L218.43,172.68 L218.65,172.18 L218.88,171.69 L219.11,171.20 L219.35,170.71 L219.59,170.23 L219.84,169.75 L220.10,169.27 L220.36,168.80 L220.64,168.34 L220.92,167.87 L221.20,167.42 L221.50,166.97 L221.80,166.52 L222.11,166.08 L222.42,165.64 L222.74,165.20 L223.07,164.77 L223.39,164.34 L223.72,163.91 L224.06,163.48 L224.39,163.05 L224.73,162.63 L225.07,162.20 L225.40,161.77 L225.74,161.35 L226.08,160.92 L226.41,160.49 L226.75,160.06 L227.09,159.64 L227.43,159.22 L227.78,158.80 L228.13,158.38 L228.48,157.98 L228.85,157.58 L229.22,157.19 L229.59,156.80 L229.98,156.43 L230.37,156.07 L230.78,155.72 L231.19,155.37 L231.61,155.04 L232.04,154.71 L232.47,154.39 L232.91,154.08 L233.36,153.77 L233.81,153.48 L234.27,153.18 L234.73,152.89 L235.19,152.61 L235.66,152.32 L236.13,152.05 L236.60,151.77 L237.07,151.50 L237.55,151.22 L238.02,150.95 L238.50,150.68 L238.97,150.41 L239.44,150.13 L239.92,149.86 L240.39,149.58 L240.86,149.31 L241.32,149.03 L241.79,148.75 L242.26,148.48 L242.73,148.20 L243.20,147.93 L243.66,147.66 L244.13,147.39 L244.61,147.13 L245.08,146.86 L245.55,146.61 L246.03,146.35 L246.51,146.11 L246.99,145.86 L247.47,145.63 L247.96,145.40 L248.45,145.18 L248.95,144.96 L249.45,144.75 L249.95,144.55 L250.45,144.35 L250.96,144.15 L251.46,143.95 L251.97,143.76 L252.48,143.57 L252.98,143.37 L253.49,143.18 L253.99,142.98 L254.50,142.78 L255.00,142.57 L255.49,142.36 L255.99,142.14 L256.48,141.91 L256.96,141.67 L257.44,141.43 L257.92,141.17 L258.39,140.90 L258.85,140.63 L259.31,140.34 L259.76,140.05 L260.21,139.74 L260.66,139.43 L261.10,139.12 L261.53,138.79 L261.96,138.46 L262.39,138.12 L262.81,137.78 L263.23,137.43 L263.65,137.07 L264.06,136.71 L264.46,136.35 L264.86,135.98 L265.26,135.61 L265.66,135.24 L266.05,134.86 L266.44,134.48 L266.82,134.10 L267.21,133.72 L267.59,133.33 L267.97,132.95 L268.35,132.56 L268.73,132.18 L269.11,131.79 L269.49,131.41 L269.87,131.03 L270.25,130.65 L270.64,130.27 L271.02,129.89 L271.41,129.51 L271.80,129.14 L272.19,128.76 L272.59,128.39 L272.98,128.02 L273.37,127.65 L273.77,127.27 L274.16,126.90 L274.55,126.53 L274.95,126.16 L275.34,125.78 L275.73,125.41 L276.12,125.03 L276.51,124.65 L276.89,124.27 L277.28,123.89 L277.66,123.51 L278.04,123.12 L278.42,122.74 L278.79,122.35 L279.16,121.95 L279.53,121.56 L279.89,121.15 L280.25,120.75 L280.61,120.35 L280.96,119.94 L281.31,119.53 L281.66,119.11 L282.01,118.70 L282.35,118.28 L282.70,117.87 L283.04,117.45 L283.38,117.03 L283.72,116.61 L284.06,116.19 L284.40,115.76 L284.74,115.34 L285.09,114.92 L285.43,114.50 L285.77,114.08 L286.11,113.66 L286.45,113.24 L286.80,112.82 L287.14,112.41 L287.49,111.99 L287.84,111.58 L288.19,111.17 L288.55,110.76 L288.91,110.35 L289.26,109.94 L289.62,109.54 L289.99,109.14 L290.35,108.74 L290.72,108.34 L291.09,107.94 L291.46,107.55 L291.83,107.16 L292.21,106.77 L292.58,106.38 L292.96,105.99 L293.34,105.61 L293.73,105.22 L294.11,104.84 L294.50,104.46 L294.89,104.09 L295.28,103.71 L295.67,103.34 L296.07,102.97 L296.46,102.60 L296.86,102.23 L297.26,101.87 L297.67,101.51 L298.07,101.15 L298.48,100.79 L298.89,100.43 L299.30,100.08 L299.71,99.73 L300.13,99.38 L300.54,99.04 L300.96,98.69 L301.38,98.35 L301.80,98.02 L302.23,97.68 L302.65,97.35 L303.08,97.02 L303.51,96.69 L303.95,96.37 L304.38,96.04 L304.82,95.73 L305.25,95.41 L305.69,95.10 L306.14,94.79 L306.58,94.49 L307.03,94.19 L307.49,93.89 L307.94,93.60 L308.40,93.31 L308.86,93.03 L309.33,92.75 L309.80,92.48 L310.27,92.21 L310.75,91.95 L311.23,91.69 L311.72,91.44 L312.21,91.19 L312.71,90.96 L313.21,90.73 L313.71,90.51 L314.22,90.31 L314.73,90.12 L315.25,89.95 L315.77,89.80 L316.29,89.67 L316.82,89.56 L317.36,89.48 L317.90,89.42 L318.44,89.38 L318.98,89.38 L319.53,89.40 L320.07,89.45 L320.61,89.53 L321.15,89.63 L321.68,89.76 L322.21,89.91 L322.72,90.09 L323.22,90.29 L323.71,90.52 L324.19,90.77 L324.66,91.04 L325.12,91.32 L325.58,91.62 L326.02,91.93 L326.46,92.26 L326.89,92.59 L327.32,92.92 L327.75,93.26 L328.18,93.60 L328.60,93.95 L329.02,94.29 L329.44,94.64 L329.85,94.99 L330.26,95.35 L330.66,95.71 L331.06,96.07 L331.45,96.44 L331.84,96.82 L332.22,97.20 L332.60,97.59 L332.96,97.99 L333.32,98.39 L333.67,98.80 L334.02,99.22 L334.36,99.64 L334.69,100.06 L335.02,100.50 L335.35,100.93 L335.67,101.37 L335.98,101.81 L336.29,102.25 L336.60,102.69 L336.91,103.14 L337.21,103.59 L337.50,104.05 L337.80,104.50 L338.09,104.96 L338.37,105.42 L338.66,105.88 L338.94,106.34 L339.22,106.81 L339.50,107.27 L339.78,107.74 L340.05,108.21 L340.33,108.68 L340.60,109.15 L340.87,109.62 L341.15,110.09 L341.42,110.56 L341.69,111.03 L341.97,111.50 L342.24,111.97 L342.52,112.44 L342.79,112.90 L343.07,113.37 L343.35,113.83 L343.63,114.29 L343.92,114.75 L344.21,115.21 L344.50,115.67 L344.79,116.12 L345.09,116.57 L345.39,117.02 L345.70,117.46 L346.01,117.90 L346.32,118.34 L346.64,118.77 L346.97,119.20 L347.30,119.62 L347.63,120.04 L347.97,120.46 L348.32,120.87 L348.67,121.27 L349.02,121.68 L349.38,122.08 L349.74,122.48 L350.11,122.87 L350.48,123.27 L350.85,123.66 L351.23,124.05 L351.61,124.43 L351.99,124.82 L352.37,125.20 L352.75,125.59 L353.14,125.97 L353.53,126.35 L353.91,126.74 L354.30,127.12 L354.69,127.50 L355.08,127.89 L355.47,128.27 L355.86,128.66 L356.25,129.05 L356.64,129.43 L357.03,129.82 L357.42,130.21 L357.81,130.59 L358.20,130.97 L358.59,131.35 L358.99,131.73 L359.39,132.10 L359.80,132.47 L360.20,132.83 L360.62,133.18 L361.03,133.53 L361.45,133.87 L361.88,134.20 L362.31,134.53 L362.75,134.84 L363.20,135.14 L363.65,135.44 L364.11,135.72 L364.58,135.98 L365.06,136.24 L365.55,136.48 L366.04,136.71 L366.55,136.92 L367.06,137.12 L367.58,137.30 L368.11,137.46 L368.64,137.61 L369.17,137.73 L369.71,137.84 L370.25,137.93 L370.80,138.00 L371.34,138.04 L371.89,138.07 L372.43,138.07 L372.97,138.04 L373.51,138.00 L374.05,137.93 L374.58,137.84 L375.11,137.73 L375.64,137.61 L376.17,137.47 L376.69,137.34 L377.22,137.20 L377.74,137.06 L378.26,136.92 L378.79,136.78 L379.31,136.64 L379.84,136.51 L380.36,136.37 L380.89,136.23 L381.41,136.10 L381.94,135.97 L382.46,135.83 L382.99,135.70 L383.51,135.57 L384.04,135.44 L384.56,135.30 L385.09,135.17 L385.61,135.04 L386.14,134.91 L386.66,134.78 L387.18,134.65 L387.71,134.51 L388.23,134.38 L388.76,134.25 L389.28,134.12 L389.80,133.98 L390.33,133.85 L390.85,133.71 L391.37,133.58 L391.90,133.44 L392.42,133.31 L392.94,133.17 L393.47,133.03 L393.99,132.89 L394.51,132.75 L395.03,132.61 L395.56,132.47 L396.08,132.32 L396.60,132.18 L397.12,132.03 L397.64,131.88 L398.16,131.73 L398.68,131.58 L399.20,131.43 L399.72,131.27 L400.24,131.12 L400.76,130.96 L401.27,130.80 L401.79,130.63 L402.31,130.47 L402.82,130.30 L403.34,130.13 L403.85,129.96 L404.36,129.79 L404.87,129.61 L405.38,129.43 L405.89,129.25 L406.40,129.06 L406.90,128.88 L407.41,128.69 L407.92,128.50 L408.42,128.30 L408.92,128.11 L409.43,127.92 L409.94,127.73 L410.44,127.54 L410.95,127.35 L411.46,127.17 L411.97,126.98 L412.49,126.81 L413.00,126.63 L413.52,126.46 L414.04,126.30 L414.56,126.15 L415.09,126.00 L415.62,125.86 L416.15,125.73 L416.68,125.61 L417.21,125.50 L417.75,125.40 L418.28,125.31 L418.82,125.24 L419.35,125.18 L419.89,125.14 L420.43,125.11 L420.97,125.10 L421.51,125.11 L422.05,125.13 L422.59,125.17 L423.13,125.22 L423.67,125.29 L424.20,125.38 L424.74,125.48 L425.27,125.59 L425.81,125.71 L426.34,125.84 L426.86,125.99 L427.39,126.15 L427.91,126.31 L428.42,126.49 L428.94,126.68 L429.45,126.87 L429.95,127.07 L430.45,127.28 L430.95,127.50 L431.44,127.72 L431.93,127.95 L432.42,128.19 L432.90,128.43 L433.38,128.69 L433.85,128.94 L434.33,129.21 L434.80,129.48 L435.26,129.76 L435.73,130.04 L436.19,130.33 L436.64,130.62 L437.09,130.92 L437.54,131.23 L437.99,131.54 L438.42,131.86 L438.86,132.19 L439.28,132.52 L439.70,132.87 L440.12,133.22 L440.52,133.57 L440.92,133.94 L441.31,134.32 L441.70,134.70 L442.07,135.09 L442.44,135.49 L442.80,135.89 L443.16,136.29 L443.52,136.70 L443.88,137.10 L444.25,137.50 L444.61,137.90 L444.99,138.29 L445.37,138.68 L445.76,139.05 L446.15,139.42 L446.56,139.77 L446.98,140.12 L447.40,140.46 L447.82,140.80 L448.25,141.13 L448.67,141.47 L449.10,141.80 L449.52,142.14 L449.94,142.48 L450.36,142.83 L450.76,143.19 L451.16,143.55 L451.55,143.93 L451.94,144.31 L452.31,144.69 L452.69,145.09 L453.06,145.48 L453.43,145.88 L453.80,146.27 L454.17,146.66 L454.55,147.05 L454.94,147.43 L455.33,147.81 L455.73,148.18 L456.13,148.54 L456.54,148.90 L456.96,149.25 L457.38,149.59 L457.80,149.93 L458.24,150.26 L458.67,150.58 L459.12,150.89 L459.56,151.20 L460.01,151.49 L460.47,151.78 L460.93,152.06 L461.39,152.33 L461.86,152.60 L462.34,152.85 L462.81,153.10 L463.30,153.34 L463.78,153.57 L464.27,153.80 L464.77,154.02 L465.26,154.23 L465.77,154.43 L466.27,154.63 L466.78,154.82 L467.30,155.01 L467.82,155.19 L468.34,155.36 L468.87,155.53 L469.40,155.69 L469.93,155.85 L470.47,155.99 L471.01,156.13 L471.55,156.25 L472.09,156.36 L472.63,156.46 L473.18,156.53 L473.72,156.59 L474.26,156.62 L474.79,156.63 L475.33,156.62 L475.86,156.58 L476.38,156.50 L476.90,156.40 L477.42,156.27 L477.93,156.11 L478.44,155.93 L478.95,155.73 L479.45,155.52 L479.95,155.29 L480.44,155.05 L480.93,154.80 L481.42,154.54 L481.91,154.29 L482.40,154.03 L482.88,153.78 L483.37,153.52 L483.85,153.26 L484.33,153.01 L484.80,152.75 L485.28,152.49 L485.75,152.23 L486.23,151.96 L486.70,151.70 L487.17,151.44 L487.64,151.17 L488.11,150.90 L488.57,150.64 L489.04,150.36 L489.50,150.09 L489.96,149.82 L490.42,149.54 L490.88,149.26 L491.34,148.98 L491.80,148.70 L492.26,148.41 L492.71,148.13 L493.17,147.84 L493.62,147.55 L494.08,147.25 L494.53,146.96 L494.98,146.66 L495.44,146.37 L495.89,146.07 L496.34,145.78 L496.80,145.48 L497.25,145.18 L497.71,144.89 L498.16,144.59 L498.62,144.30 L499.07,144.01 L499.53,143.72 L499.99,143.43 L500.45,143.14 L500.91,142.86 L501.37,142.58 L501.84,142.30 L502.31,142.02 L502.77,141.75 L503.24,141.48 L503.71,141.21 L504.19,140.94 L504.66,140.68 L505.14,140.42 L505.61,140.16 L506.09,139.91 L506.57,139.66 L507.05,139.41 L507.53,139.16 L508.02,138.92 L508.50,138.68 L508.99,138.44 L509.48,138.21 L509.96,137.97 L510.45,137.74 L510.94,137.52 L511.44,137.29 L511.93,137.07 L512.42,136.85 L512.92,136.64 L513.41,136.42 L513.91,136.21 L514.41,136.00 L514.90,135.79 L515.40,135.58 L515.90,135.38 L516.40,135.17 L516.91,134.96 L517.41,134.76 L517.91,134.56 L518.42,134.35 L518.92,134.15 L519.43,133.95 L519.93,133.75 L520.44,133.55 L520.95,133.37 L521.46,133.19 L521.98,133.02 L522.50,132.86 L523.02,132.72 L523.54,132.59 L524.07,132.49 L524.60,132.40 L525.14,132.33 L525.67,132.28 L526.21,132.25 L526.76,132.23 L527.30,132.22 L527.84,132.23 L528.39,132.24 L528.93,132.27 L529.48,132.30 L530.02,132.33 L530.56,132.38 L531.11,132.43 L531.64,132.49 L532.18,132.56 L532.71,132.64 L533.25,132.74 L533.77,132.85 L534.30,132.97 L534.82,133.12 L535.34,133.27 L535.85,133.45 L536.36,133.63 L536.86,133.83 L537.36,134.05 L537.86,134.27 L538.35,134.51 L538.83,134.76 L539.31,135.02 L539.79,135.29 L540.26,135.57 L540.72,135.86 L541.17,136.16 L541.62,136.47 L542.07,136.78 L542.50,137.11 L542.93,137.44 L543.36,137.78 L543.77,138.13 L544.18,138.49 L544.58,138.85 L544.98,139.23 L545.36,139.61 L545.74,139.99 L546.11,140.39 L546.47,140.79 L546.82,141.20 L547.17,141.62 L547.50,142.04 L547.83,142.46 L548.16,142.90 L548.47,143.34 L548.78,143.78 L549.09,144.23 L549.39,144.68 L549.69,145.13 L549.98,145.59 L550.26,146.05 L550.55,146.51 L550.83,146.98 L551.10,147.45 L551.38,147.92 L551.65,148.39 L551.92,148.86 L552.19,149.33 L552.46,149.81 L552.73,150.28 L553.00,150.75 L553.27,151.22 L553.54,151.69 L553.80,152.16 L554.07,152.63 L554.34,153.10 L554.60,153.57 L554.87,154.04 L555.13,154.52 L555.40,154.99 L555.66,155.46 L555.92,155.93 L556.18,156.41 L556.44,156.89 L556.69,157.36 L556.95,157.84 L557.20,158.32 L557.46,158.80 L557.71,159.28 L557.96,159.76 L558.21,160.24 L558.46,160.73 L558.72,161.21 L558.97,161.68 L559.22,162.16 L559.48,162.64 L559.73,163.11 L559.99,163.59 L560.25,164.06 L560.51,164.52 L560.78,164.99 L561.05,165.45 L561.32,165.91 L561.59,166.37 L561.86,166.83 L562.13,167.29 L562.41,167.74 L562.68,168.20 L562.96,168.66 L563.24,169.11 L563.51,169.57 L563.79,170.02 L564.07,170.48 L564.35,170.94 L564.62,171.40 L564.90,171.87 L565.17,172.33 L565.44,172.80 L565.71,173.27 L565.98,173.75 L566.25,174.22 L566.51,174.71 L566.78,175.19 L567.04,175.69 L567.29,176.18 L567.55,176.68 L567.80,177.19 L568.04,177.70 L568.29,178.22 L568.53,178.74 L568.77,179.26 L569.02,179.78 L569.26,180.30 L569.52,180.81 L569.77,181.31 L570.04,181.81 L570.31,182.29 L570.59,182.76 L570.88,183.22 L571.19,183.67 L571.50,184.09 L571.84,184.50 L572.18,184.88 L572.55,185.24 L572.93,185.58 L573.34,185.89 L573.76,186.17 L574.21,186.42 L574.67,186.65 L575.15,186.85 L575.65,187.03 L576.16,187.18 L576.69,187.32 L577.22,187.44 L577.77,187.55 L578.32,187.64 L578.88,187.72 L579.44,187.78 L580.01,187.84 L580.57,187.89 L581.14,187.94 L581.70,187.99 L582.27,188.03 L582.82,188.07 L583.38,188.11 L583.93,188.15 L584.47,188.19 L585.02,188.23 L585.56,188.27 L586.10,188.31 L586.64,188.35 L587.17,188.39 L587.70,188.44 L588.24,188.48 L588.77,188.53 L589.30,188.57 L589.83,188.62 L590.36,188.67 L590.89,188.73 L591.42,188.78 L591.96,188.84 L592.49,188.90 L593.02,188.96 L593.56,189.03 L594.09,189.09 L594.63,189.16 L595.16,189.22 L595.70,189.29 L596.24,189.36 L596.77,189.43 L597.31,189.49 L597.85,189.56 L598.39,189.62 L598.93,189.68 L599.47,189.74 L600.01,189.79 L600.55,189.84 L601.09,189.89 L601.63,189.94 L602.18,189.98 L602.72,190.02 L603.26,190.05 L603.80,190.07 L604.34,190.09 L604.88,190.11 L605.43,190.11 L605.97,190.12 L606.51,190.11 L607.05,190.10 L607.59,190.09 L608.13,190.07 L608.68,190.04 L609.22,190.01 L609.76,189.97 L610.30,189.93 L610.84,189.89 L611.38,189.84 L611.91,189.78 L612.45,189.73 L612.99,189.66 L613.53,189.60 L614.07,189.53 L614.60,189.45 L615.14,189.38 L615.67,189.29 L616.21,189.21 L616.74,189.12 L617.27,189.03 L617.81,188.94 L618.34,188.84 L618.87,188.74 L619.40,188.64 L619.93,188.53 L620.46,188.42 L620.99,188.31 L621.52,188.20 L622.05,188.08 L622.58,187.96 L623.11,187.84 L623.64,187.71 L624.16,187.58 L624.69,187.45 L625.22,187.32 L625.74,187.19 L626.27,187.05 L626.79,186.91 L627.31,186.77 L627.83,186.62 L628.35,186.48 L628.87,186.33 L629.39,186.18 L629.91,186.03 L630.42,185.87 L630.94,185.72 L631.45,185.56 L631.97,185.40 L632.48,185.24 L632.99,185.07 L633.50,184.91 L634.02,184.75 L634.53,184.58 L635.04,184.41 L635.56,184.25 L636.07,184.08 L636.59,183.91 L637.11,183.74 L637.63,183.58 L638.15,183.41 L638.68,183.24 L639.21,183.08 L639.73,182.92 L640.27,182.76 L640.80,182.61 L641.33,182.47 L641.86,182.35 L642.40,182.24 L642.93,182.14 L643.47,182.07 L644.00,182.02 L644.53,181.99 L645.07,181.98 L645.60,182.01 L646.13,182.06 L646.66,182.14 L647.18,182.23 L647.71,182.35 L648.24,182.48 L648.77,182.61 L649.29,182.75 L649.82,182.89 L650.35,183.02 L650.88,183.15 L651.42,183.26 L651.95,183.36 L652.49,183.44 L653.03,183.49 L653.57,183.53 L654.11,183.56 L654.65,183.58 L655.19,183.60 L655.73,183.61 L656.28,183.63 L656.81,183.66 L657.35,183.70 L657.89,183.75 L658.42,183.82 L658.95,183.91 L659.48,184.01 L660.00,184.12 L660.53,184.24 L661.05,184.37 L661.58,184.52 L662.10,184.67 L662.62,184.82 L663.14,184.98 L663.65,185.15 L664.17,185.32 L664.69,185.49 L665.21,185.66 L665.72,185.84 L666.24,186.01 L666.76,186.18 L667.28,186.34 L667.80,186.50 L668.32,186.66 L668.84,186.80 L669.37,186.94 L669.89,187.07 L670.42,187.20 L670.94,187.31 L671.47,187.42 L672.00,187.51 L672.53,187.61 L673.07,187.69 L673.60,187.77 L674.13,187.84 L674.67,187.91 L675.21,187.97 L675.74,188.02 L676.28,188.07 L676.82,188.12 L677.36,188.16 L677.90,188.19 L678.44,188.23 L678.98,188.25 L679.53,188.28 L680.07,188.30 L680.61,188.33 L681.16,188.35 L681.70,188.36 L682.25,188.38 L682.79,188.39 L683.34,188.41 L683.88,188.42 L684.43,188.43 L684.97,188.45 L685.52,188.46 L686.07,188.47 L686.61,188.49 L687.16,188.51 L687.71,188.52 L688.25,188.54 L688.80,188.56 L689.34,188.58 L689.89,188.60 L690.44,188.62 L690.98,188.63 L691.53,188.65 L692.07,188.66 L692.61,188.67 L693.16,188.67 L693.70,188.68 L694.24,188.67 L694.78,188.66 L695.32,188.65 L695.86,188.63 L696.40,188.60 L696.93,188.57 L697.47,188.53 L698.00,188.48 L698.54,188.43 L699.07,188.36 L699.60,188.28 L700.13,188.20 L700.66,188.11 L701.19,188.00 L701.71,187.89 L702.24,187.77 L702.76,187.65 L703.29,187.52 L703.81,187.38 L704.33,187.23 L704.85,187.08 L705.37,186.93 L705.89,186.77 L706.41,186.61 L706.93,186.45 L707.45,186.28 L707.97,186.11 L708.48,185.95 L709.00,185.78 L709.52,185.60 L710.04,185.43 L710.55,185.27 L711.07,185.10 L711.59,184.93 L712.11,184.77 L712.62,184.61 L713.14,184.45 L713.66,184.29 L714.18,184.14 L714.70,184.00" stroke="#fa0008" stroke-width="3.9" stroke-dasharray="17.3 12.9 0.01 12.4" stroke-dashoffset="-1.5"/>
</g>
<g clip-path="url(#pc)">
<g fill="#3dbe7c">
<rect x="90.7" y="282.2" width="6.6" height="6.6"/>
<rect x="99.4" y="309.9" width="6.6" height="6.6"/>
<rect x="108.0" y="308.6" width="6.6" height="6.6"/>
<rect x="116.6" y="303.8" width="6.6" height="6.6"/>
<rect x="125.3" y="301.4" width="6.6" height="6.6"/>
<rect x="133.9" y="278.9" width="6.6" height="6.6"/>
<rect x="142.5" y="282.8" width="6.6" height="6.6"/>
<rect x="151.1" y="266.0" width="6.6" height="6.6"/>
<rect x="159.8" y="257.7" width="6.6" height="6.6"/>
<rect x="168.4" y="263.8" width="6.6" height="6.6"/>
<rect x="177.0" y="237.8" width="6.6" height="6.6"/>
<rect x="185.7" y="204.4" width="6.6" height="6.6"/>
<rect x="194.3" y="212.4" width="6.6" height="6.6"/>
<rect x="202.9" y="197.6" width="6.6" height="6.6"/>
<rect x="211.5" y="189.6" width="6.6" height="6.6"/>
<rect x="220.2" y="165.2" width="6.6" height="6.6"/>
<rect x="228.8" y="167.5" width="6.6" height="6.6"/>
<rect x="237.4" y="151.3" width="6.6" height="6.6"/>
<rect x="246.1" y="150.3" width="6.6" height="6.6"/>
<rect x="254.7" y="161.0" width="6.6" height="6.6"/>
<rect x="263.3" y="146.3" width="6.6" height="6.6"/>
<rect x="271.9" y="125.3" width="6.6" height="6.6"/>
<rect x="280.6" y="129.8" width="6.6" height="6.6"/>
<rect x="289.2" y="111.2" width="6.6" height="6.6"/>
<rect x="297.8" y="110.7" width="6.6" height="6.6"/>
<rect x="306.5" y="93.4" width="6.6" height="6.6"/>
<rect x="315.1" y="86.9" width="6.6" height="6.6"/>
<rect x="323.7" y="100.4" width="6.6" height="6.6"/>
<rect x="332.3" y="118.8" width="6.6" height="6.6"/>
<rect x="341.0" y="112.5" width="6.6" height="6.6"/>
<rect x="349.6" y="113.8" width="6.6" height="6.6"/>
<rect x="358.2" y="125.8" width="6.6" height="6.6"/>
<rect x="366.9" y="137.9" width="6.6" height="6.6"/>
<rect x="375.5" y="143.9" width="6.6" height="6.6"/>
<rect x="384.1" y="158.5" width="6.6" height="6.6"/>
<rect x="392.7" y="158.2" width="6.6" height="6.6"/>
<rect x="401.4" y="139.6" width="6.6" height="6.6"/>
<rect x="410.0" y="127.1" width="6.6" height="6.6"/>
<rect x="418.6" y="150.9" width="6.6" height="6.6"/>
<rect x="427.3" y="155.0" width="6.6" height="6.6"/>
<rect x="435.9" y="143.1" width="6.6" height="6.6"/>
<rect x="444.5" y="152.6" width="6.6" height="6.6"/>
<rect x="453.1" y="159.3" width="6.6" height="6.6"/>
<rect x="461.8" y="167.2" width="6.6" height="6.6"/>
<rect x="470.4" y="164.0" width="6.6" height="6.6"/>
<rect x="479.0" y="166.4" width="6.6" height="6.6"/>
<rect x="487.7" y="164.5" width="6.6" height="6.6"/>
<rect x="496.3" y="151.9" width="6.6" height="6.6"/>
<rect x="504.9" y="146.7" width="6.6" height="6.6"/>
<rect x="513.5" y="140.0" width="6.6" height="6.6"/>
<rect x="522.2" y="140.5" width="6.6" height="6.6"/>
<rect x="530.8" y="147.0" width="6.6" height="6.6"/>
<rect x="539.4" y="154.3" width="6.6" height="6.6"/>
<rect x="548.1" y="174.3" width="6.6" height="6.6"/>
<rect x="556.7" y="182.0" width="6.6" height="6.6"/>
<rect x="565.3" y="190.4" width="6.6" height="6.6"/>
<rect x="573.9" y="185.5" width="6.6" height="6.6"/>
<rect x="582.6" y="191.5" width="6.6" height="6.6"/>
<rect x="591.2" y="192.0" width="6.6" height="6.6"/>
<rect x="599.8" y="177.8" width="6.6" height="6.6"/>
<rect x="608.5" y="175.8" width="6.6" height="6.6"/>
<rect x="617.1" y="188.0" width="6.6" height="6.6"/>
<rect x="625.7" y="186.2" width="6.6" height="6.6"/>
<rect x="634.3" y="187.3" width="6.6" height="6.6"/>
<rect x="643.0" y="181.2" width="6.6" height="6.6"/>
<rect x="651.6" y="190.4" width="6.6" height="6.6"/>
<rect x="660.2" y="188.4" width="6.6" height="6.6"/>
<rect x="668.9" y="185.2" width="6.6" height="6.6"/>
<rect x="677.5" y="200.4" width="6.6" height="6.6"/>
<rect x="686.1" y="212.7" width="6.6" height="6.6"/>
<rect x="694.7" y="194.1" width="6.6" height="6.6"/>
<rect x="703.4" y="192.0" width="6.6" height="6.6"/>
<rect x="712.0" y="184.7" width="6.6" height="6.6"/>
</g><g fill="#cd6a0e">
<circle cx="93.6" cy="298.1" r="3.6"/>
<circle cx="102.3" cy="318.2" r="3.6"/>
<circle cx="110.9" cy="318.9" r="3.6"/>
<circle cx="119.5" cy="319.8" r="3.6"/>
<circle cx="128.2" cy="308.6" r="3.6"/>
<circle cx="136.8" cy="291.6" r="3.6"/>
<circle cx="145.4" cy="286.8" r="3.6"/>
<circle cx="154.0" cy="271.5" r="3.6"/>
<circle cx="162.7" cy="268.2" r="3.6"/>
<circle cx="171.3" cy="274.8" r="3.6"/>
<circle cx="179.9" cy="240.4" r="3.6"/>
<circle cx="188.6" cy="219.8" r="3.6"/>
<circle cx="197.2" cy="212.0" r="3.6"/>
<circle cx="205.8" cy="198.3" r="3.6"/>
<circle cx="214.4" cy="198.9" r="3.6"/>
<circle cx="223.1" cy="170.8" r="3.6"/>
<circle cx="231.7" cy="156.6" r="3.6"/>
<circle cx="240.3" cy="161.9" r="3.6"/>
<circle cx="249.0" cy="159.8" r="3.6"/>
<circle cx="257.6" cy="158.5" r="3.6"/>
<circle cx="266.2" cy="154.9" r="3.6"/>
<circle cx="274.8" cy="126.2" r="3.6"/>
<circle cx="283.5" cy="116.4" r="3.6"/>
<circle cx="292.1" cy="112.1" r="3.6"/>
<circle cx="300.7" cy="115.8" r="3.6"/>
<circle cx="309.4" cy="92.2" r="3.6"/>
<circle cx="318.0" cy="86.2" r="3.6"/>
<circle cx="326.6" cy="100.3" r="3.6"/>
<circle cx="335.2" cy="125.5" r="3.6"/>
<circle cx="343.9" cy="119.4" r="3.6"/>
<circle cx="352.5" cy="122.6" r="3.6"/>
<circle cx="361.1" cy="133.8" r="3.6"/>
<circle cx="369.8" cy="144.2" r="3.6"/>
<circle cx="378.4" cy="150.6" r="3.6"/>
<circle cx="387.0" cy="166.3" r="3.6"/>
<circle cx="395.6" cy="163.1" r="3.6"/>
<circle cx="404.3" cy="138.0" r="3.6"/>
<circle cx="412.9" cy="127.5" r="3.6"/>
<circle cx="421.5" cy="157.4" r="3.6"/>
<circle cx="430.2" cy="158.6" r="3.6"/>
<circle cx="438.8" cy="142.9" r="3.6"/>
<circle cx="447.4" cy="146.4" r="3.6"/>
<circle cx="456.0" cy="165.0" r="3.6"/>
<circle cx="464.7" cy="163.7" r="3.6"/>
<circle cx="473.3" cy="174.6" r="3.6"/>
<circle cx="481.9" cy="159.7" r="3.6"/>
<circle cx="490.6" cy="161.6" r="3.6"/>
<circle cx="499.2" cy="152.2" r="3.6"/>
<circle cx="507.8" cy="146.7" r="3.6"/>
<circle cx="516.4" cy="129.6" r="3.6"/>
<circle cx="525.1" cy="146.7" r="3.6"/>
<circle cx="533.7" cy="154.4" r="3.6"/>
<circle cx="542.3" cy="154.0" r="3.6"/>
<circle cx="551.0" cy="175.5" r="3.6"/>
<circle cx="559.6" cy="190.5" r="3.6"/>
<circle cx="568.2" cy="192.6" r="3.6"/>
<circle cx="576.8" cy="195.8" r="3.6"/>
<circle cx="585.5" cy="190.8" r="3.6"/>
<circle cx="594.1" cy="202.1" r="3.6"/>
<circle cx="602.7" cy="183.2" r="3.6"/>
<circle cx="611.4" cy="192.4" r="3.6"/>
<circle cx="620.0" cy="198.5" r="3.6"/>
<circle cx="628.6" cy="191.3" r="3.6"/>
<circle cx="637.2" cy="196.0" r="3.6"/>
<circle cx="645.9" cy="190.0" r="3.6"/>
<circle cx="654.5" cy="175.9" r="3.6"/>
<circle cx="663.1" cy="180.3" r="3.6"/>
<circle cx="671.8" cy="181.1" r="3.6"/>
<circle cx="680.4" cy="207.9" r="3.6"/>
<circle cx="689.0" cy="202.6" r="3.6"/>
<circle cx="697.6" cy="192.6" r="3.6"/>
<circle cx="706.3" cy="202.1" r="3.6"/>
<circle cx="714.9" cy="177.8" r="3.6"/>
</g></g>
<g fill="none" stroke-linecap="round" stroke-width="3.6">
<path d="M290.3,318 L347.6,318" stroke="#fa0008" stroke-dasharray="17.7 12.7 0.01 12.4"/>
<path d="M290.3,349.4 L340,349.4" stroke="#35659f" stroke-dasharray="14.1 20.4"/>
</g>
<circle cx="522.4" cy="318" r="3.6" fill="#cd6a0e"/>
<rect x="519.1" y="345.8" width="6.6" height="6.6" fill="#3dbe7c"/>
<text x="353.6" y="326.1">Sim. Port 1</text>
<text x="353.6" y="357">Sim. Port 2</text>
<text x="556.6" y="326.1">Mea. Port 1</text>
<text x="556.6" y="357">Mea. Port 2</text>
</svg></body></html>
